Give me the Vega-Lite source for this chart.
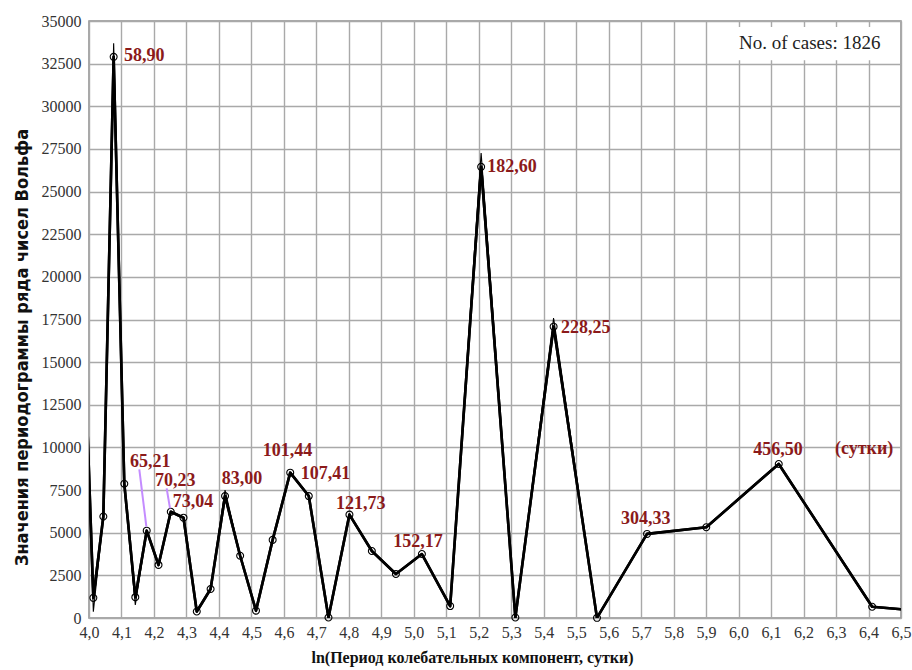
{
  "$schema": "https://vega.github.io/schema/vega-lite/v6.json",
  "width": 812,
  "height": 597,
  "autosize": {"type": "none"},
  "padding": {"left": 89, "top": 21, "right": 11, "bottom": 52},
  "background": "white",
  "config": {
    "view": {"stroke": "#8f8f8f", "strokeWidth": 1.5},
    "axis": {
      "grid": true,
      "gridColor": "#a9a9a9",
      "gridWidth": 1.4,
      "domain": false,
      "ticks": false,
      "labelFont": "Liberation Serif",
      "labelFontSize": 16,
      "labelColor": "#333333",
      "titleFont": "Liberation Serif",
      "titleFontWeight": "bold",
      "titleColor": "#111111"
    }
  },
  "datasets": {
    "series": [
      {"k": 34, "x": 3.98352, "y": 17500, "yt": 17500},
      {"k": 33, "x": 4.01337, "y": 1180, "yt": 370},
      {"k": 32, "x": 4.04414, "y": 5950, "yt": 5950},
      {"k": 31, "x": 4.07589, "y": 32900, "yt": 33700},
      {"k": 30, "x": 4.10868, "y": 7870, "yt": 7870},
      {"k": 29, "x": 4.14258, "y": 1220, "yt": 760},
      {"k": 28, "x": 4.17768, "y": 5120, "yt": 5120},
      {"k": 27, "x": 4.21404, "y": 3110, "yt": 3110},
      {"k": 26, "x": 4.25178, "y": 6230, "yt": 6230},
      {"k": 25, "x": 4.29100, "y": 5880, "yt": 5880},
      {"k": 24, "x": 4.33183, "y": 380, "yt": 380},
      {"k": 23, "x": 4.37439, "y": 1700, "yt": 1700},
      {"k": 22, "x": 4.41884, "y": 7150, "yt": 7500},
      {"k": 21, "x": 4.46536, "y": 3650, "yt": 3650},
      {"k": 20, "x": 4.51415, "y": 430, "yt": 430},
      {"k": 19, "x": 4.56544, "y": 4580, "yt": 4580},
      {"k": 18, "x": 4.61951, "y": 8520, "yt": 8520},
      {"k": 17, "x": 4.67667, "y": 7150, "yt": 7150},
      {"k": 16, "x": 4.73729, "y": 30, "yt": 30},
      {"k": 15, "x": 4.80183, "y": 6060, "yt": 6060},
      {"k": 14, "x": 4.87082, "y": 3930, "yt": 3930},
      {"k": 13, "x": 4.94493, "y": 2580, "yt": 2580},
      {"k": 12, "x": 5.02497, "y": 3750, "yt": 3750},
      {"k": 11, "x": 5.11198, "y": 700, "yt": 700},
      {"k": 10, "x": 5.20729, "y": 26450, "yt": 27260},
      {"k": 9, "x": 5.31266, "y": 30, "yt": 30},
      {"k": 8, "x": 5.43044, "y": 17080, "yt": 17590},
      {"k": 7, "x": 5.56397, "y": 10, "yt": 10},
      {"k": 6, "x": 5.71812, "y": 4930, "yt": 4930},
      {"k": 5, "x": 5.90044, "y": 5320, "yt": 5320},
      {"k": 4, "x": 6.12359, "y": 9030, "yt": 9030},
      {"k": 3, "x": 6.41127, "y": 660, "yt": 660},
      {"k": 2, "x": 6.81673, "y": 0, "yt": 0}
    ],
    "labels": [
      {"text": "58,90", "x": 4.1078, "y": 32950},
      {"text": "65,21", "x": 4.1265, "y": 9160},
      {"text": "70,23", "x": 4.2032, "y": 8050},
      {"text": "73,04", "x": 4.2577, "y": 6820},
      {"text": "83,00", "x": 4.4085, "y": 8130},
      {"text": "101,44", "x": 4.5348, "y": 9790},
      {"text": "107,41", "x": 4.6518, "y": 8440},
      {"text": "121,73", "x": 4.7605, "y": 6660},
      {"text": "152,17", "x": 4.9370, "y": 4440},
      {"text": "182,60", "x": 5.2263, "y": 26460},
      {"text": "228,25", "x": 5.4532, "y": 16980},
      {"text": "304,33", "x": 5.6379, "y": 5800},
      {"text": "456,50", "x": 6.0452, "y": 9850},
      {"text": "(сутки)", "x": 6.2968, "y": 9910}
    ],
    "leaders": [
      {"x": 4.1549, "y": 8718, "x2": 4.1766, "y2": 5350},
      {"x": 4.2391, "y": 7604, "x2": 4.2494, "y2": 6431}
    ],
    "box": [
      {"x": 5.935, "y": 32700, "x2": 6.49, "y2": 34650, "text": "No. of cases: 1826", "tx": 6.0012, "ty": 33700}
    ]
  },
  "layer": [
    {
      "data": {"name": "series"},
      "mark": {"type": "line", "clip": true, "color": "#000000", "strokeWidth": 2.6, "strokeJoin": "round"},
      "encoding": {
        "x": {"field": "x", "type": "quantitative", "scale": {"domain": [4, 6.5], "nice": false, "zero": false},
          "axis": {
            "values": [4.0, 4.1, 4.2, 4.3, 4.4, 4.5, 4.6, 4.7, 4.8, 4.9, 5.0, 5.1, 5.2, 5.3, 5.4, 5.5, 5.6, 5.7, 5.8, 5.9, 6.0, 6.1, 6.2, 6.3, 6.4, 6.5],
            "tickCount": 26,
            "labelExpr": "replace(format(datum.value, '.1f'), '.', ',')",
            "labelPadding": 6,
            "labelFlush": false,
            "labelOverlap": false,
            "title": "ln(Период колебательных компонент,  сутки)",
            "titleFontSize": 16,
            "titlePadding": 9,
            "titleX": 383
          }
        },
        "y": {"field": "y", "type": "quantitative", "scale": {"domain": [0, 35000], "nice": false},
          "axis": {
            "values": [0, 2500, 5000, 7500, 10000, 12500, 15000, 17500, 20000, 22500, 25000, 27500, 30000, 32500, 35000],
            "format": "d",
            "labelPadding": 8,
            "labelOverlap": false,
            "title": "Значения периодограммы ряда чисел Вольфа",
            "titleFont": "DejaVu Sans Condensed",
            "titleFontSize": 18,
            "titlePadding": 10,
            "titleY": 326
          }
        },
        "order": {"field": "x", "type": "quantitative"}
      }
    },
    {
      "data": {"name": "box"},
      "mark": {"type": "rect", "fill": "white", "stroke": null},
      "encoding": {
        "x": {"field": "x", "type": "quantitative"},
        "x2": {"field": "x2"},
        "y": {"field": "y", "type": "quantitative"},
        "y2": {"field": "y2"}
      }
    },
    {
      "data": {"name": "box"},
      "mark": {"type": "text", "font": "Liberation Serif", "fontSize": 19, "align": "left", "baseline": "middle", "color": "#222222"},
      "encoding": {
        "x": {"field": "tx", "type": "quantitative"},
        "y": {"field": "ty", "type": "quantitative"},
        "text": {"field": "text"}
      }
    },
    {
      "data": {"name": "series"},
      "mark": {"type": "line", "clip": true, "color": "#000000", "strokeWidth": 1.1},
      "encoding": {
        "x": {"field": "x", "type": "quantitative"},
        "y": {"field": "yt", "type": "quantitative"},
        "order": {"field": "x", "type": "quantitative"}
      }
    },
    {
      "data": {"name": "series"},
      "mark": {"type": "line", "clip": true, "color": "#000000", "strokeWidth": 2.6, "strokeJoin": "round"},
      "encoding": {
        "x": {"field": "x", "type": "quantitative"},
        "y": {"field": "y", "type": "quantitative"},
        "order": {"field": "x", "type": "quantitative"}
      }
    },
    {
      "data": {"name": "series"},
      "transform": [{"filter": "datum.x >= 4 && datum.x <= 6.5"}],
      "mark": {"type": "point", "shape": "circle", "filled": false, "stroke": "#000000", "strokeWidth": 1.1, "size": 48, "opacity": 1},
      "encoding": {
        "x": {"field": "x", "type": "quantitative"},
        "y": {"field": "y", "type": "quantitative"}
      }
    },
    {
      "data": {"name": "leaders"},
      "mark": {"type": "rule", "color": "#c48cff", "strokeWidth": 2},
      "encoding": {
        "x": {"field": "x", "type": "quantitative"},
        "y": {"field": "y", "type": "quantitative"},
        "x2": {"field": "x2"},
        "y2": {"field": "y2"}
      }
    },
    {
      "data": {"name": "labels"},
      "mark": {"type": "text", "font": "Liberation Serif", "fontWeight": "bold", "fontSize": 18, "align": "left", "baseline": "middle", "color": "#8b1a1a"},
      "encoding": {
        "x": {"field": "x", "type": "quantitative"},
        "y": {"field": "y", "type": "quantitative"},
        "text": {"field": "text"}
      }
    }
  ]
}
